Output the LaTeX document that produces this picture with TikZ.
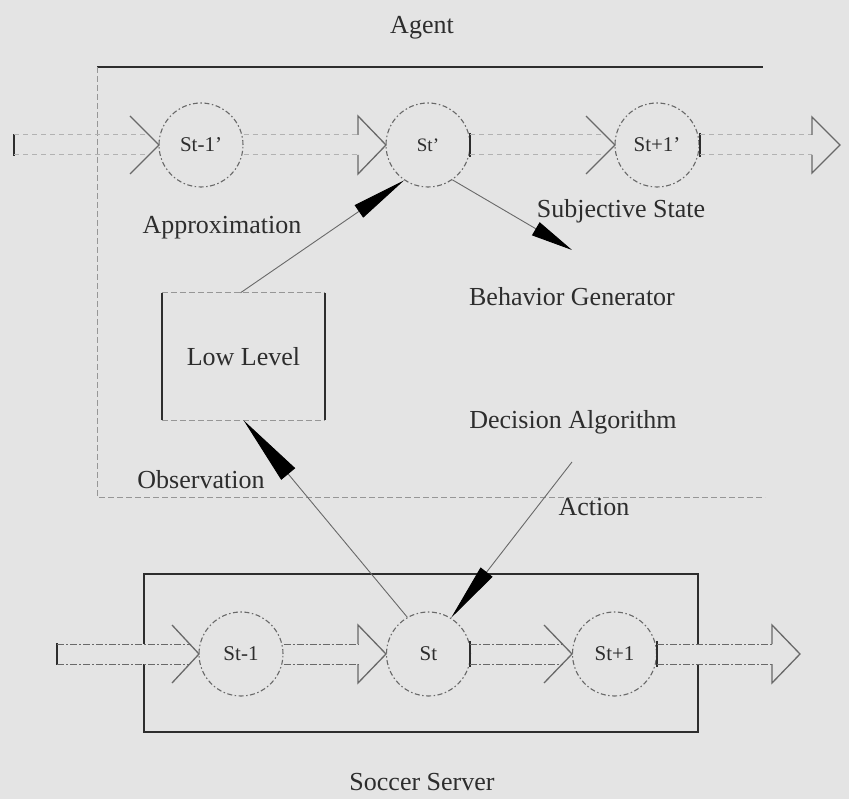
\documentclass[tikz,border=0pt]{standalone}
\usepackage{fontspec}
\setmainfont{Liberation Serif}
\usetikzlibrary{arrows.meta}
\definecolor{bg}{RGB}{228,228,228}
\definecolor{ink}{RGB}{45,45,45}
\definecolor{faint}{RGB}{150,150,150}
\definecolor{pale}{RGB}{178,178,178}
\definecolor{mid}{RGB}{105,105,105}
\begin{document}
\begin{tikzpicture}[x=1pt,y=-1pt,
  lbl/.style={text=ink,font=\fontsize{26}{30}\selectfont,inner sep=0pt},
  state/.style={circle,draw=mid,line width=1.1pt,dash pattern=on 5pt off 2.5pt on 1.5pt off 2.5pt,minimum size=84pt,inner sep=0pt,text=ink,font=\fontsize{21}{24}\selectfont},
  frame/.style={draw=ink,line width=1.6pt},
  shaft/.style={draw=faint,line width=1pt,dash pattern=on 6pt off 3pt},
  pshaft/.style={draw=pale,line width=1pt,dash pattern=on 5pt off 4pt},
  dshaft/.style={draw=mid,line width=1pt,dash pattern=on 7pt off 2pt on 2pt off 2pt},
  headline/.style={draw=mid,line width=1.3pt},
  bar/.style={draw=ink,line width=1.8pt},
  conn/.style={draw=mid,line width=0.9pt},
  ptr/.style={conn,-{Triangle[length=#1,width=15pt,color=black]}}
]
\useasboundingbox (0,0) rectangle (849,799);
\fill[bg] (0,0) rectangle (849,799);

% ---------- Agent frame ----------
\node[lbl] (agent) at (422,28) {Agent};
\draw[frame] (97,67) -- (763,67);
\draw[shaft] (97,67) -- (97,497) -- (765,497);

% ---------- top row states ----------
\node[state] (s1p) at (201,145) {St-1'};
\node[state,font=\fontsize{19}{22}\selectfont] (s2p) at (428,145) {St'};
\node[state] (s3p) at (657,145) {St+1'};

% block arrow A (top)
\draw[bar] (14,134) -- (14,156);
\draw[pshaft] (14,135) -- (149,135) (14,155) -- (149,155);
\draw[headline] (130,116) -- (159,145) -- (130,174);
% block arrow B (top)
\draw[pshaft] (s1p.east |- 0,135) -- (358,135) (s1p.east |- 0,155) -- (358,155);
\draw[headline] (358,135) -- (358,116) -- (386,145) -- (358,174) -- (358,155);
% block arrow C (top)
\draw[bar,line width=1.4pt] (470,133) -- (470,157);
\draw[pshaft] (470,135) -- (605,135) (470,155) -- (605,155);
\draw[headline] (586,116) -- (615,145) -- (586,174);
% block arrow D (top)
\draw[bar,line width=1.4pt] (700,133) -- (700,157);
\draw[pshaft] (700,135) -- (812,135) (700,155) -- (812,155);
\draw[headline] (812,135) -- (812,117) -- (840,145) -- (812,173) -- (812,155);

% ---------- labels ----------
\node[lbl] (approx) at (222,228) {Approximation};
\node[lbl] (subj) at (621,211) {Subjective State};
\node[lbl] (behav) at (572,297) {Behavior Generator};
\node[lbl] (decis) at (573,422) {Decision Algorithm};
\node[lbl] (obs) at (201,480) {Observation};
\node[lbl] (action) at (594,507) {Action};
\node[lbl] (soccer) at (422,782) {Soccer Server};

% ---------- Low level box ----------
\node[lbl,minimum width=163pt,minimum height=127pt] (low) at (243.5,356.5) {Low Level};
\draw[bar,line width=1.5pt] (low.north west) -- (low.south west) (low.north east) -- (low.south east);
\draw[shaft] (low.north west) -- (low.north east) (low.south west) -- (low.south east);

% ---------- Soccer server box ----------
\draw[frame] (144,644) -- (144,574) -- (698,574) -- (698,644);
\draw[frame] (144,664) -- (144,732) -- (698,732) -- (698,664);

\node[state] (sa) at (241,654) {St-1};
\node[state] (sb) at (428.5,654) {St};
\node[state] (sc) at (614.5,654) {St+1};

% block arrow A (bottom)
\draw[bar] (57,643) -- (57,665);
\draw[dshaft] (57,644) -- (190,644) (57,664) -- (190,664);
\draw[headline] (172,625) -- (199,654) -- (172,683);
% block arrow B (bottom)
\draw[dshaft] (sa.east |- 0,644) -- (358,644) (sa.east |- 0,664) -- (358,664);
\draw[headline] (358,644) -- (358,625) -- (386,654) -- (358,683) -- (358,664);
% block arrow C (bottom)
\draw[bar,line width=1.4pt] (470,641) -- (470,667);
\draw[dshaft] (470,644) -- (563,644) (470,664) -- (563,664);
\draw[headline] (544,625) -- (572,654) -- (544,683);
% block arrow D (bottom)
\draw[bar,line width=1.4pt] (657,641) -- (657,667);
\draw[dshaft] (657,644) -- (772,644) (657,664) -- (772,664);
\draw[headline] (772,644) -- (772,625) -- (800,654) -- (772,683) -- (772,664);

% ---------- connectors ----------
\coordinate (bgtip) at (572,250);
\coordinate (actstart) at (572,462);
\draw[ptr=55pt] ([xshift=-3pt]low.north) -- (s2p.236);
\draw[ptr=42pt] (s2p.-55) -- (bgtip);
\draw[conn,-{Triangle[length=70pt,width=18pt,color=black]}] (sb.120) -- (low.south);
\draw[ptr=58pt] (actstart) -- (sb.58);
\end{tikzpicture}
\end{document}
